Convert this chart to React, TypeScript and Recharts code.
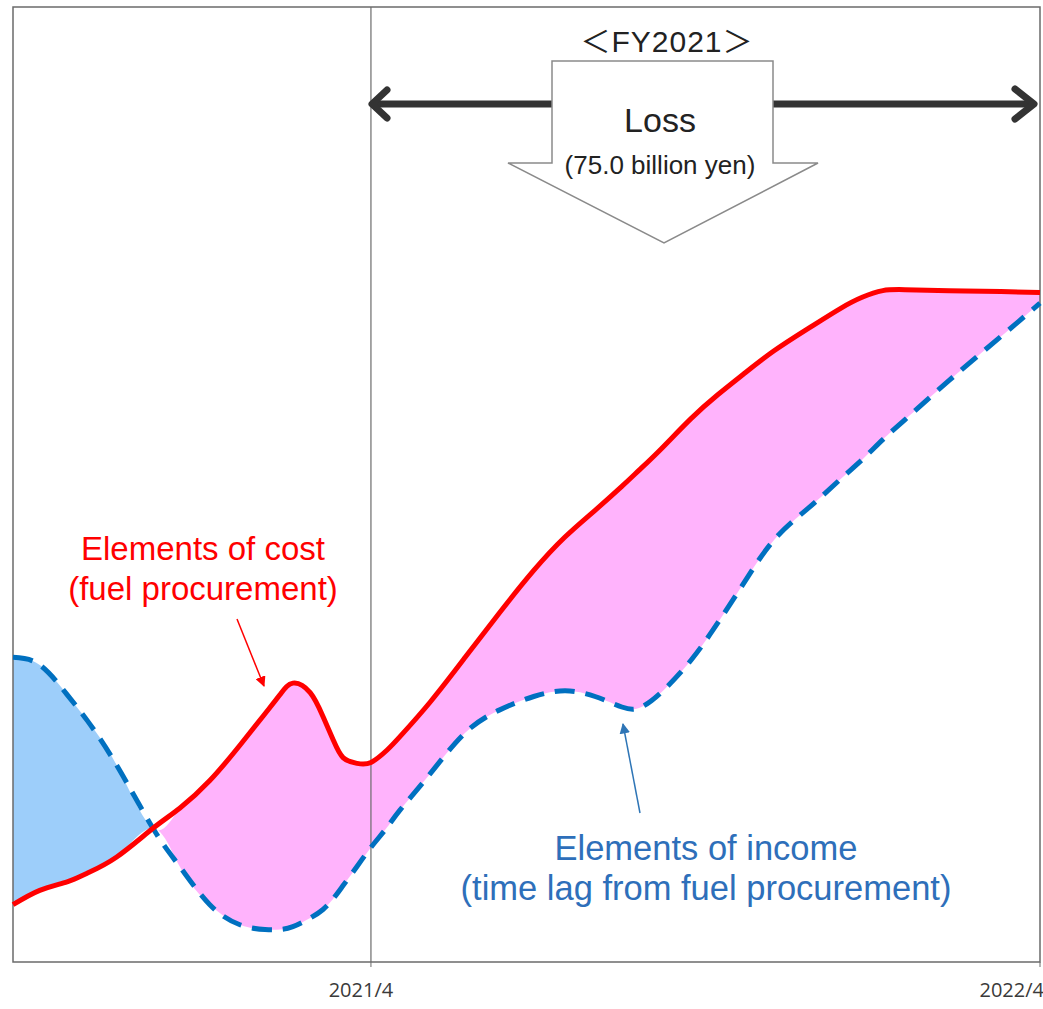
import {
  ComposedChart,
  Area,
  Line,
  XAxis,
  YAxis,
  ReferenceLine,
  ReferenceArea,
} from 'recharts'

// months relative to 2021/4 (0 = 2021/4, 12 = 2022/4)
const months = [
  -6.42, -5.94, -5.45, -5.09, -4.56, -3.91, -3.43, -2.89, -2.35, -1.9, -1.63, -1.4, -1.09, -0.86,
  -0.68, -0.5, -0.25, 0, 0.29, 0.52, 1.06, 1.69, 2.31, 2.92, 3.48, 4.02, 4.5, 4.81, 5.2, 5.74,
  6.22, 6.69, 7.23, 7.86, 8.41, 8.81, 9.18, 9.58, 10.37, 11.3, 12,
]

// elements of cost (fuel procurement), index
const cost = [
  6.0, 7.5, 8.4, 9.3, 11.0, 14.0, 16.1, 19.0, 22.7, 26.0, 28.0, 29.2, 28.2, 25.7,
  23.3, 21.4, 20.8, 20.9, 22.2, 23.6, 27.2, 31.9, 36.6, 41.0, 44.5, 47.3, 49.8, 51.5, 53.7, 56.9,
  59.4, 61.6, 64.0, 66.4, 68.4, 69.6, 70.3, 70.4, 70.3, 70.2, 70.1,
]

// elements of income (time lag from fuel procurement), index
const income = [
  31.9, 31.1, 28.0, 25.3, 20.6, 14.0, 10.0, 6.0, 3.9, 3.4, 3.4, 3.7, 4.6, 5.5,
  6.6, 8.0, 10.0, 12.0, 14.1, 15.9, 19.7, 24.0, 26.4, 27.8, 28.4, 27.8, 26.7, 26.6, 28.2, 31.6,
  35.5, 39.7, 44.2, 47.6, 50.5, 52.6, 54.7, 56.8, 60.9, 65.5, 69.0,
]

const tickMonths = [0, 12]
const tickLabels = ['2021/4', '2022/4']

const data = months.map((m, i) => ({
  month: m,
  cost: cost[i],
  income: income[i],
  gap: [Math.min(cost[i], income[i]), Math.max(cost[i], income[i])],
}))

const xMin = months[0]
const xMax = months[months.length - 1]

// where income drops below cost: fill switches from blue to pink
const crossIdx = data.findIndex((d) => d.cost >= d.income)
const crossFrac = (months[crossIdx] - xMin) / (xMax - xMin)

const FRAME = '#6b6b6b'
const TEXT_FONT = '"Liberation Sans", Arial, "Noto Sans CJK JP", sans-serif'
const CURVE = 'natural'

function MonthTick(props: any) {
  const { x, y, payload, index } = props
  const last = index === tickMonths.length - 1
  return (
    <text
      x={last ? x + 4 : x - 10}
      y={y + 28}
      textAnchor={last ? 'end' : 'middle'}
      fill="#3a3a3a"
      fontSize={20}
      fontFamily='"Open Sans", sans-serif'
    >
      {tickLabels[tickMonths.indexOf(payload.value)]}
    </text>
  )
}

function Annotations() {
  return (
    <svg
      width={1043}
      height={1009}
      style={{ position: 'absolute', left: 0, top: 0, pointerEvents: 'none' }}
    >
      <defs>
        <marker id="redHead" viewBox="0 0 10 10" refX="9" refY="5" markerWidth="7" markerHeight="7" orient="auto">
          <path d="M0,0 L10,5 L0,10 z" fill="#ff0000" />
        </marker>
        <marker id="blueHead" viewBox="0 0 10 10" refX="9" refY="5" markerWidth="7" markerHeight="7" orient="auto">
          <path d="M0,0 L10,5 L0,10 z" fill="#2e75b6" />
        </marker>
      </defs>

      {/* FY2021 span arrow */}
      <line x1={374} y1={104} x2={1032} y2={104} stroke="#333" strokeWidth={7} />
      <polyline points="387,90 372,104 387,118" fill="none" stroke="#333" strokeWidth={7} strokeLinecap="round" strokeLinejoin="round" />
      <polyline points="1015,89 1034,104 1015,119" fill="none" stroke="#333" strokeWidth={7} strokeLinecap="round" strokeLinejoin="round" />

      {/* loss block arrow */}
      <polygon
        points="552,61 773,61 773,163 818,163 664,243 508,163 552,163"
        fill="#fff"
        stroke="#8a8a8a"
        strokeWidth={1.5}
      />
      <text x={667} y={52} textAnchor="middle" fontSize={30} letterSpacing={1} fontFamily={TEXT_FONT} fill="#222">
        ＜FY2021＞
      </text>
      <text x={660} y={132} textAnchor="middle" fontSize={34} fontFamily={TEXT_FONT} fill="#222">
        Loss
      </text>
      <text x={660} y={174} textAnchor="middle" fontSize={26} fontFamily={TEXT_FONT} fill="#222">
        (75.0 billion yen)
      </text>

      {/* cost label */}
      <text x={203} y={560} textAnchor="middle" fontSize={33} fontFamily={TEXT_FONT} fill="#ff0000">
        Elements of cost
      </text>
      <text x={203} y={600} textAnchor="middle" fontSize={33} fontFamily={TEXT_FONT} fill="#ff0000">
        (fuel procurement)
      </text>
      <line x1={237} y1={619} x2={264} y2={686} stroke="#ff0000" strokeWidth={1.5} markerEnd="url(#redHead)" />

      {/* income label */}
      <text x={706} y={860} textAnchor="middle" fontSize={34.5} fontFamily={TEXT_FONT} fill="#2e6fba">
        Elements of income
      </text>
      <text x={706} y={900} textAnchor="middle" fontSize={34.5} fontFamily={TEXT_FONT} fill="#2e6fba">
        (time lag from fuel procurement)
      </text>
      <line x1={640} y1={813} x2={623} y2={724} stroke="#2e75b6" strokeWidth={1.5} markerEnd="url(#blueHead)" />
    </svg>
  )
}

export default function App() {
  return (
    <div style={{ position: 'absolute', left: 0, top: 0, width: 1043, height: 1009, background: '#fff' }}>
      <ComposedChart
        width={1043}
        height={1009}
        data={data}
        margin={{ top: 7, right: 3, bottom: 0, left: 13 }}
      >
        <defs>
          <linearGradient id="gapFill" x1="0" y1="0" x2="1" y2="0">
            <stop offset={0} stopColor="#9dcefa" />
            <stop offset={crossFrac} stopColor="#9dcefa" />
            <stop offset={crossFrac} stopColor="#ffb3fc" />
            <stop offset={1} stopColor="#ffb3fc" />
          </linearGradient>
        </defs>
        <XAxis
          dataKey="month"
          type="number"
          domain={[xMin, xMax]}
          ticks={tickMonths}
          height={47}
          axisLine={false}
          tickLine={{ stroke: FRAME }}
          tickSize={5}
          tick={<MonthTick />}
          interval={0}
        />
        <YAxis hide domain={[0, 100]} />
        <Area
          dataKey="gap"
          type={CURVE}
          stroke="none"
          fill="url(#gapFill)"
          fillOpacity={1}
          isAnimationActive={false}
          activeDot={false}
        />
        <ReferenceArea x1={xMin} x2={xMax} y1={0} y2={100} fill="none" stroke={FRAME} strokeWidth={1.5} fillOpacity={0} />
        <ReferenceLine x={0} stroke={FRAME} strokeWidth={1.2} />
        <Line
          dataKey="income"
          type={CURVE}
          stroke="#0070c0"
          strokeWidth={5}
          strokeDasharray="20 11"
          dot={false}
          activeDot={false}
          isAnimationActive={false}
        />
        <Line
          dataKey="cost"
          type={CURVE}
          stroke="#ff0000"
          strokeWidth={5}
          dot={false}
          activeDot={false}
          isAnimationActive={false}
        />
      </ComposedChart>
      <Annotations />
    </div>
  )
}
